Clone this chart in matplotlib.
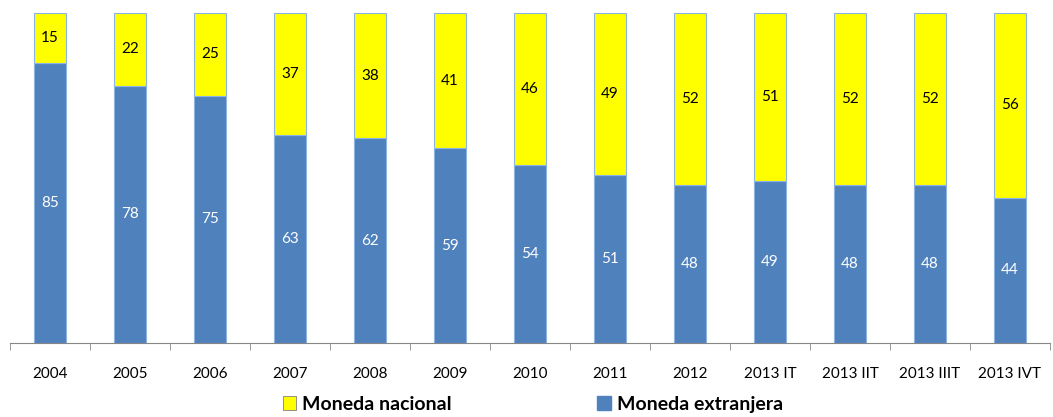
import matplotlib.pyplot as plt
import numpy as np
from matplotlib.patches import Patch

plt.rcParams["font.family"] = ["Lato", "DejaVu Sans"]

periods = ["2004", "2005", "2006", "2007", "2008", "2009", "2010", "2011", "2012",
           "2013 IT", "2013 IIT", "2013 IIIT", "2013 IVT"]
extranjera = [85, 78, 75, 63, 62, 59, 54, 51, 48, 49, 48, 48, 44]
nacional = [15, 22, 25, 37, 38, 41, 46, 49, 52, 51, 52, 52, 56]

blue = "#4f81bd"
yellow = "#ffff00"
edge = "#8db3e2"

fig = plt.figure(figsize=(10.53, 4.17), dpi=100)
ax = fig.add_axes([10 / 1053, 1 - 343 / 417, 1040 / 1053, 330 / 417])

x = np.arange(len(periods))
w = 0.41
ext = np.array(extranjera)
nac = np.array(nacional)
ax.bar(x, ext, w, color=blue, edgecolor=edge, linewidth=0.8)
ax.bar(x, nac, w, bottom=ext, color=yellow, edgecolor=edge, linewidth=0.8)

for i in range(len(periods)):
  ax.text(x[i], ext[i] / 2, str(ext[i]), ha="center", va="center",
          color="white", fontsize=11)
  ax.text(x[i], ext[i] + nac[i] / 2, str(nac[i]), ha="center", va="center",
          color="black", fontsize=11)

ax.set_xlim(-0.5, len(periods) - 0.5)
ax.set_ylim(0, 100)
for s in ["left", "right", "top"]:
  ax.spines[s].set_visible(False)
ax.spines["bottom"].set_color("#868686")
ax.set_yticks([])

ax.set_xticks(x, labels=periods, fontsize=11)
ax.tick_params(axis="x", length=0, pad=17)
ax.set_xticks(np.arange(len(periods) + 1) - 0.5, minor=True)
ax.tick_params(axis="x", which="minor", length=5, color="#868686", direction="out")

handles = [Patch(facecolor=yellow, edgecolor="#808080", linewidth=0.6),
           Patch(facecolor=blue, edgecolor=blue)]
fig.legend(handles, ["Moneda nacional", "Moneda extranjera"], loc="center",
           bbox_to_anchor=(0.506, 0.03), ncol=2, frameon=False,
           prop={"weight": "bold", "size": 14}, handlelength=0.7, handleheight=0.7,
           handletextpad=0.3, columnspacing=7.5)

fig.savefig("out.png", dpi=100)
